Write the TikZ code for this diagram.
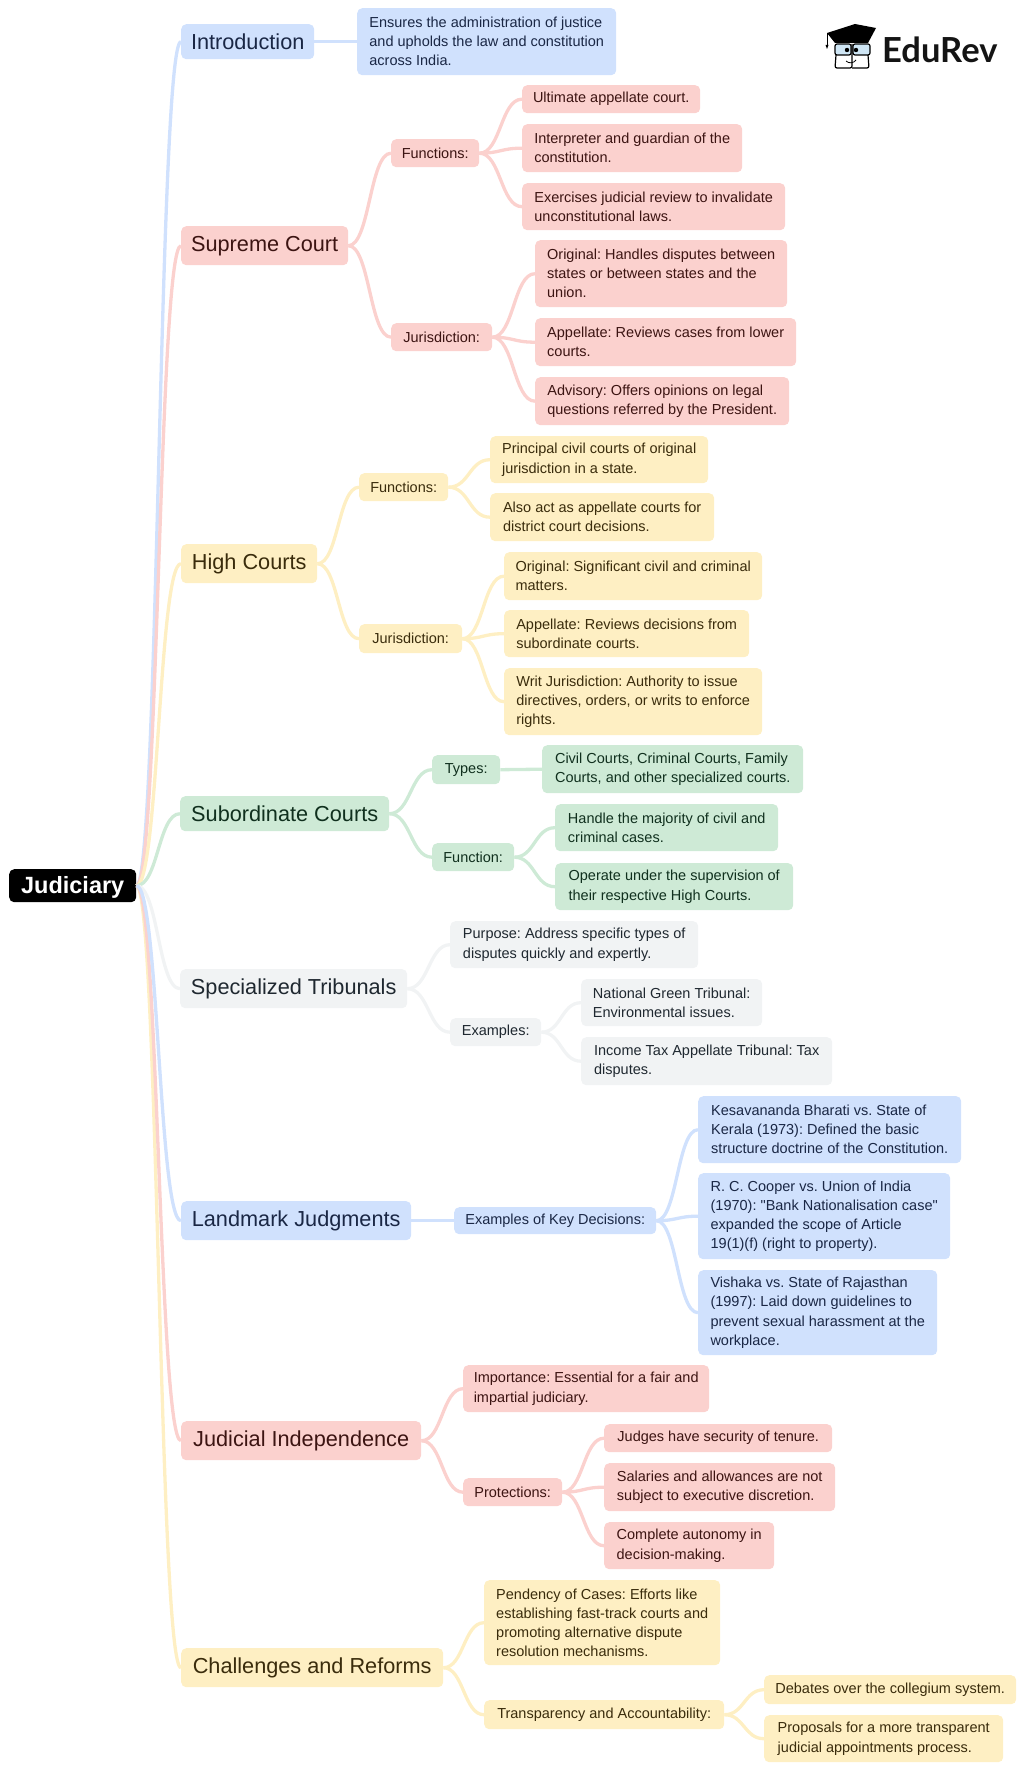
\documentclass[tikz,border=0pt]{standalone}
\usepackage{fontspec}
\newfontfamily\plainfont{Liberation Sans}
\newfontfamily\logofont{Lato}
\usetikzlibrary{calc}
\definecolor{bluefill}{HTML}{D0E1FD}
\definecolor{bluetext}{HTML}{1A2745}
\definecolor{redfill}{HTML}{FBD1CE}
\definecolor{redtext}{HTML}{3C1412}
\definecolor{yellowfill}{HTML}{FEEFC3}
\definecolor{yellowtext}{HTML}{3A2C0C}
\definecolor{greenfill}{HTML}{CEEAD6}
\definecolor{greentext}{HTML}{10301E}
\definecolor{grayfill}{HTML}{F1F3F4}
\definecolor{graytext}{HTML}{1F2830}
\definecolor{glassblue}{HTML}{CFE6F5}
\frenchspacing
\tikzset{
	tone/.style={fill=#1fill,text=#1text},
	box/.style={anchor=north west,rounded corners=5pt,inner sep=0pt},
	note/.style={box,align=left,font=\plainfont\fontsize{14.5}{19.1}\selectfont},
	tag/.style={box,align=center,font=\plainfont\fontsize{14.5}{19.1}\selectfont},
	head/.style={box,align=center,font=\plainfont\fontsize{21.7}{26}\selectfont},
	branch/.style={draw=#1fill,line width=3.3pt,to path={.. controls ($(\tikztostart)!0.5!(\tikztotarget |- \tikztostart)$) and ($(\tikztostart |- \tikztotarget)!0.5!(\tikztotarget)$) .. (\tikztotarget)}}
}
\begin{document}
\begin{tikzpicture}[x=1pt,y=-1pt]
	\useasboundingbox (0,0) rectangle (1024,1771);
	%root
	\node[box,fill=black,text=white,align=center,minimum width=127pt,minimum height=33pt,text height=20.5pt,font=\plainfont\fontsize{23.5}{26}\selectfont\bfseries] (root) at (9,869) {Judiciary};
	%intro
	\node[head,tone=blue,minimum width=133pt,minimum height=35pt] (intro) at (181,24) {Introduction};
	\node[note,tone=blue,minimum width=259pt,minimum height=67pt] (introA) at (357,8) {Ensures the administration of justice\\and upholds the law and constitution\\across India.};
	%supreme court
	\node[head,tone=red,minimum width=167pt,minimum height=39pt] (sc) at (181,226) {Supreme Court};
	\node[tag,tone=red,minimum width=88pt,minimum height=28pt] (scFn) at (391,139) {Functions:};
	\node[tag,tone=red,minimum width=178pt,minimum height=28pt] (scFnA) at (522,85) {Ultimate appellate court.};
	\node[note,tone=red,minimum width=220pt,minimum height=48pt] (scFnB) at (522,124) {Interpreter and guardian of the\\constitution.};
	\node[note,tone=red,minimum width=263pt,minimum height=47pt] (scFnC) at (522,183) {Exercises judicial review to invalidate\\unconstitutional laws.};
	\node[tag,tone=red,minimum width=101pt,minimum height=28pt] (scJu) at (391,323) {Jurisdiction:};
	\node[note,tone=red,minimum width=252pt,minimum height=67pt] (scJuA) at (535,240) {Original: Handles disputes between\\states or between states and the\\union.};
	\node[note,tone=red,minimum width=261pt,minimum height=48pt] (scJuB) at (535,318) {Appellate: Reviews cases from lower\\courts.};
	\node[note,tone=red,minimum width=254pt,minimum height=48pt] (scJuC) at (535,377) {Advisory: Offers opinions on legal\\questions referred by the President.};
	%high courts
	\node[head,tone=yellow,minimum width=136pt,minimum height=39pt] (hc) at (181,544) {High Courts};
	\node[tag,tone=yellow,minimum width=89pt,minimum height=28pt] (hcFn) at (359,473) {Functions:};
	\node[note,tone=yellow,minimum width=218pt,minimum height=47pt] (hcFnA) at (490,436) {Principal civil courts of original\\jurisdiction in a state.};
	\node[note,tone=yellow,minimum width=224pt,minimum height=48pt] (hcFnB) at (490,493) {Also act as appellate courts for\\district court decisions.};
	\node[tag,tone=yellow,minimum width=103pt,minimum height=29pt] (hcJu) at (359,624) {Jurisdiction:};
	\node[note,tone=yellow,minimum width=258pt,minimum height=48pt] (hcJuA) at (504,552) {Original: Significant civil and criminal\\matters.};
	\node[note,tone=yellow,minimum width=245pt,minimum height=47pt] (hcJuB) at (504,610) {Appellate: Reviews decisions from\\subordinate courts.};
	\node[note,tone=yellow,minimum width=258pt,minimum height=67pt] (hcJuC) at (504,668) {Writ Jurisdiction: Authority to issue\\directives, orders, or writs to enforce\\rights.};
	%subordinate courts
	\node[head,tone=green,minimum width=209pt,minimum height=35pt] (sub) at (180,796) {Subordinate Courts};
	\node[tag,tone=green,minimum width=68pt,minimum height=29pt] (subTy) at (432,755) {Types:};
	\node[note,tone=green,minimum width=261pt,minimum height=48pt] (subTyA) at (542,745) {Civil Courts, Criminal Courts, Family\\Courts, and other specialized courts.};
	\node[tag,tone=green,minimum width=82pt,minimum height=28pt] (subFn) at (432,843) {Function:};
	\node[note,tone=green,minimum width=223pt,minimum height=47pt] (subFnA) at (555,804) {Handle the majority of civil and\\criminal cases.};
	\node[note,tone=green,minimum width=238pt,minimum height=47pt] (subFnB) at (555,863) {Operate under the supervision of\\their respective High Courts.};
	%tribunals
	\node[head,tone=gray,minimum width=227pt,minimum height=39pt] (trib) at (180,969) {Specialized Tribunals};
	\node[note,tone=gray,minimum width=248pt,minimum height=47pt] (tribPu) at (450,921) {Purpose: Address specific types of\\disputes quickly and expertly.};
	\node[tag,tone=gray,minimum width=91pt,minimum height=28pt] (tribEx) at (450,1018) {Examples:};
	\node[note,tone=gray,minimum width=181pt,minimum height=47pt] (tribExA) at (581,979) {National Green Tribunal:\\Environmental issues.};
	\node[note,tone=gray,minimum width=251pt,minimum height=48pt] (tribExB) at (581,1037) {Income Tax Appellate Tribunal: Tax\\disputes.};
	%landmark judgments
	\node[head,tone=blue,minimum width=230pt,minimum height=39pt] (land) at (181,1201) {Landmark Judgments};
	\node[tag,tone=blue,minimum width=202pt,minimum height=27pt] (landEx) at (454,1207) {Examples of Key Decisions:};
	\node[note,tone=blue,minimum width=263pt,minimum height=67pt] (landExA) at (698,1096) {Kesavananda Bharati vs. State of\\Kerala (1973): Defined the basic\\structure doctrine of the Constitution.};
	\node[note,tone=blue,minimum width=252pt,minimum height=86pt] (landExB) at (698,1173) {R. C. Cooper vs. Union of India\\(1970): "Bank Nationalisation case"\\expanded the scope of Article\\19(1)(f) (right to property).};
	\node[note,tone=blue,minimum width=239pt,minimum height=85pt] (landExC) at (698,1270) {Vishaka vs. State of Rajasthan\\(1997): Laid down guidelines to\\prevent sexual harassment at the\\workplace.};
	%independence
	\node[head,tone=red,minimum width=240pt,minimum height=39pt] (ind) at (181,1421) {Judicial Independence};
	\node[note,tone=red,minimum width=246pt,minimum height=47pt] (indIm) at (463,1365) {Importance: Essential for a fair and\\impartial judiciary.};
	\node[tag,tone=red,minimum width=99pt,minimum height=28pt] (indPr) at (463,1478) {Protections:};
	\node[tag,tone=red,minimum width=228pt,minimum height=28pt] (indPrA) at (604,1424) {Judges have security of tenure.};
	\node[note,tone=red,minimum width=231pt,minimum height=48pt] (indPrB) at (604,1463) {Salaries and allowances are not\\subject to executive discretion.};
	\node[note,tone=red,minimum width=170pt,minimum height=47pt] (indPrC) at (604,1522) {Complete autonomy in\\decision-making.};
	%challenges
	\node[head,tone=yellow,minimum width=262pt,minimum height=39pt] (chal) at (181,1648) {Challenges and Reforms};
	\node[note,tone=yellow,minimum width=236pt,minimum height=85pt] (chalPe) at (484,1580) {Pendency of Cases: Efforts like\\establishing fast-track courts and\\promoting alternative dispute\\resolution mechanisms.};
	\node[tag,tone=yellow,minimum width=240pt,minimum height=29pt] (chalTr) at (484,1700) {Transparency and Accountability:};
	\node[tag,tone=yellow,minimum width=252pt,minimum height=29pt] (chalTrA) at (764,1675) {Debates over the collegium system.};
	\node[note,tone=yellow,minimum width=239pt,minimum height=47pt] (chalTrB) at (764,1715) {Proposals for a more transparent\\judicial appointments process.};
	%links from root
	\draw[branch=blue] (root.east) to (intro.west);
	\draw[branch=red] (root.east) to (sc.west);
	\draw[branch=yellow] (root.east) to (hc.west);
	\draw[branch=green] (root.east) to (sub.west);
	\draw[branch=gray] (root.east) to (trib.west);
	\draw[branch=yellow] (root.east) to (chal.west);
	\draw[branch=red] (root.east) to (ind.west);
	\draw[branch=blue] (root.east) to (land.west);
	%links blue
	\draw[branch=blue] (intro.east) to (introA.west);
	\draw[branch=blue] (land.east) to (landEx.west);
	\draw[branch=blue] (landEx.east) to (landExA.west);
	\draw[branch=blue] (landEx.east) to (landExB.west);
	\draw[branch=blue] (landEx.east) to (landExC.west);
	%links red
	\draw[branch=red] (sc.east) to (scFn.west);
	\draw[branch=red] (sc.east) to (scJu.west);
	\draw[branch=red] (scFn.east) to (scFnA.west);
	\draw[branch=red] (scFn.east) to (scFnB.west);
	\draw[branch=red] (scFn.east) to (scFnC.west);
	\draw[branch=red] (scJu.east) to (scJuA.west);
	\draw[branch=red] (scJu.east) to (scJuB.west);
	\draw[branch=red] (scJu.east) to (scJuC.west);
	\draw[branch=red] (ind.east) to (indIm.west);
	\draw[branch=red] (ind.east) to (indPr.west);
	\draw[branch=red] (indPr.east) to (indPrA.west);
	\draw[branch=red] (indPr.east) to (indPrB.west);
	\draw[branch=red] (indPr.east) to (indPrC.west);
	%links yellow
	\draw[branch=yellow] (hc.east) to (hcFn.west);
	\draw[branch=yellow] (hc.east) to (hcJu.west);
	\draw[branch=yellow] (hcFn.east) to (hcFnA.west);
	\draw[branch=yellow] (hcFn.east) to (hcFnB.west);
	\draw[branch=yellow] (hcJu.east) to (hcJuA.west);
	\draw[branch=yellow] (hcJu.east) to (hcJuB.west);
	\draw[branch=yellow] (hcJu.east) to (hcJuC.west);
	\draw[branch=yellow] (chal.east) to (chalPe.west);
	\draw[branch=yellow] (chal.east) to (chalTr.west);
	\draw[branch=yellow] (chalTr.east) to (chalTrA.west);
	\draw[branch=yellow] (chalTr.east) to (chalTrB.west);
	%links green
	\draw[branch=green] (sub.east) to (subTy.west);
	\draw[branch=green] (sub.east) to (subFn.west);
	\draw[branch=green] (subTy.east) to (subTyA.west);
	\draw[branch=green] (subFn.east) to (subFnA.west);
	\draw[branch=green] (subFn.east) to (subFnB.west);
	%links gray
	\draw[branch=gray] (trib.east) to (tribPu.west);
	\draw[branch=gray] (trib.east) to (tribEx.west);
	\draw[branch=gray] (tribEx.east) to (tribExA.west);
	\draw[branch=gray] (tribEx.east) to (tribExB.west);
	%logo
	\fill[black] (827,33) -- (855,24) -- (876,28) -- (868,43) -- (835,43) -- cycle;
	\draw[black,line width=1pt] (827,33) -- (827,45);
	\fill[black] (825.5,45) -- (828.5,45) -- (827,49) -- cycle;
	\draw[black,line width=1.2pt,fill=glassblue,rounded corners=2pt] (835,44) rectangle (851,55);
	\draw[black,line width=1.2pt,fill=glassblue,rounded corners=2pt] (853,44) rectangle (870,55);
	\fill[black] (847,50) circle (2.2pt);
	\fill[black] (856,50) circle (2.2pt);
	\draw[black,line width=1.2pt,rounded corners=2pt] (836,55) -- (835,68) -- (852,68) -- (852,44);
	\draw[black,line width=1.2pt,rounded corners=2pt] (868,55) -- (869,68) -- (852,68);
	\draw[black,line width=0.8pt] (846,61) .. controls (849,64) and (854,63) .. (856,60);
	\node[anchor=west,inner sep=0pt,text=black!92,font=\logofont\fontsize{34.5}{36}\selectfont\bfseries] (logo) at (882,50) {EduRev};
\end{tikzpicture}
\end{document}
